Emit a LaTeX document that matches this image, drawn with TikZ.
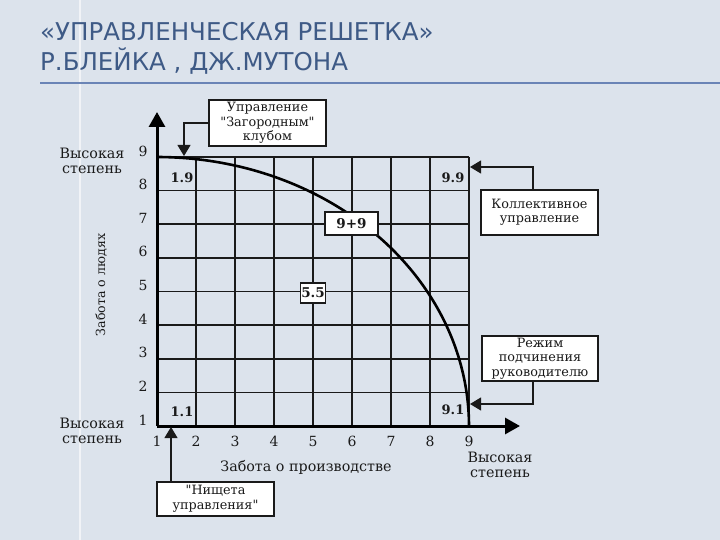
\documentclass[tikz,border=0pt]{standalone}
\usepackage{fontspec}
\setmainfont{DejaVu Serif}[Ligatures=TeXOff]
\newfontfamily\titlefont{DejaVu Sans}
\usetikzlibrary{arrows.meta}
\definecolor{bgcol}{HTML}{DCE3EC}
\definecolor{titlecol}{HTML}{3E5A86}
\definecolor{rulecol}{HTML}{6A84B6}
\definecolor{inkcol}{HTML}{1A1A1A}
\tikzset{
  gridline/.style={line width=1.7pt, draw=inkcol},
  axisline/.style={line width=3pt, draw=black, -{Triangle[length=15pt,width=16pt]}},
  curveline/.style={line width=2.6pt, draw=black},
  callout/.style={line width=1.1pt, draw=inkcol, -{Triangle[length=11pt,width=13pt]}},
  infobox/.style={draw=inkcol, line width=1.1pt, fill=white, inner sep=0pt, align=center,
    font=\fontsize{12.8}{14.5}\selectfont, text=inkcol},
  valbox/.style={draw=inkcol, line width=1.1pt, fill=white, inner sep=0pt,
    font=\bfseries\fontsize{13.5}{15}\selectfont, text=inkcol},
  tick/.style={font=\fontsize{14}{15}\selectfont, text=inkcol},
  axlabel/.style={font=\fontsize{14.3}{15}\selectfont, text=inkcol, align=center},
  corner/.style={font=\bfseries\fontsize{13}{14}\selectfont, text=inkcol},
  titletext/.style={font=\titlefont\fontsize{24.5}{28}\selectfont, text=titlecol, anchor=base west, inner sep=0pt}
}
\begin{document}
\begin{tikzpicture}[x=1pt,y=-1pt]
\useasboundingbox (0,0) rectangle (720,540);
\fill[bgcol] (0,0) rectangle (720,540);
\draw[white, opacity=0.6, line width=1.5pt] (80,0) -- (80,540);
% title
\node[titletext] (t1) at (40,41) {«УПРАВЛЕНЧЕСКАЯ РЕШЕТКА»};
\node[titletext] (t2) at (40,71) {Р.БЛЕЙКА , ДЖ.МУТОНА};
\coordinate (rl) at (40,83);
\coordinate (rr) at (720,83);
\draw[rulecol, line width=2pt] (rl) -- (rr);
% grid
\foreach \i in {1,...,8} {
  \draw[gridline] ({157+39*\i},157) -- ({157+39*\i},426);
}
\foreach \j in {0,...,7} {
  \draw[gridline] (157,{157+33.625*\j}) -- (469,{157+33.625*\j});
}
% curve
\draw[curveline] plot[domain=0:90, samples=80, smooth] ({157+312*cos(\x)},{426-269*sin(\x)});
% axes
\coordinate (O) at (157,426);
\coordinate (ytip) at (157,112);
\coordinate (xtip) at (520,426);
\draw[axisline] (O) -- (ytip);
\draw[axisline] (O) -- (xtip);
% tick labels
\foreach \k in {1,...,9} {
  \node[tick] (xl\k) at ({157+39*(\k-1)},441) {\k};
  \node[tick] (yl\k) at (143,{420-33.625*(\k-1)}) {\k};
}
% axis labels
\node[axlabel] (hl1) at (92,161) {Высокая\\степень};
\node[axlabel] (hl2) at (92,431) {Высокая\\степень};
\node[axlabel] (hl3) at (500,465) {Высокая\\степень};
\node[axlabel] (xlab) at (306,467) {Забота о производстве};
\node[font=\fontsize{12.6}{14}\selectfont, text=inkcol, rotate=90] (ylab) at (101,285) {Забота о людях};
% corner values
\node[corner] (v19) at (182,178) {1.9};
\node[corner] (v99) at (453,178) {9.9};
\node[corner] (v11) at (182,412) {1.1};
\node[corner] (v91) at (453,410) {9.1};
\node[valbox, minimum width=53pt, minimum height=23pt] (v9p9) at (351.5,223.5) {9+9};
\node[valbox, minimum width=25pt, minimum height=20pt] (v55) at (313,293) {5.5};
% callout boxes
\node[infobox, minimum width=117pt, minimum height=46pt] (b1) at (267.5,123) {Управление\\"Загородным"\\клубом};
\node[infobox, minimum width=117pt, minimum height=45pt] (b2) at (539.5,212.5) {Коллективное\\управление};
\node[infobox, minimum width=116pt, minimum height=45pt] (b3) at (540,358.5) {Режим\\подчинения\\руководителю};
\node[infobox, minimum width=117pt, minimum height=34pt] (b4) at (215.5,499) {"Нищета\\управления"};
\coordinate (c1) at (184,156);
\coordinate (c2) at (470,167);
\coordinate (c3) at (470,404);
\coordinate (c4) at (171,427);
\coordinate (c2s) at (533,190);
\coordinate (c3s) at (533,381);
\draw[callout] (b1.west) -| (c1);
\draw[callout] (c2s) |- (c2);
\draw[callout] (c3s) |- (c3);
\draw[callout] (b4.north -| c4) -- (c4);
\end{tikzpicture}
\end{document}
